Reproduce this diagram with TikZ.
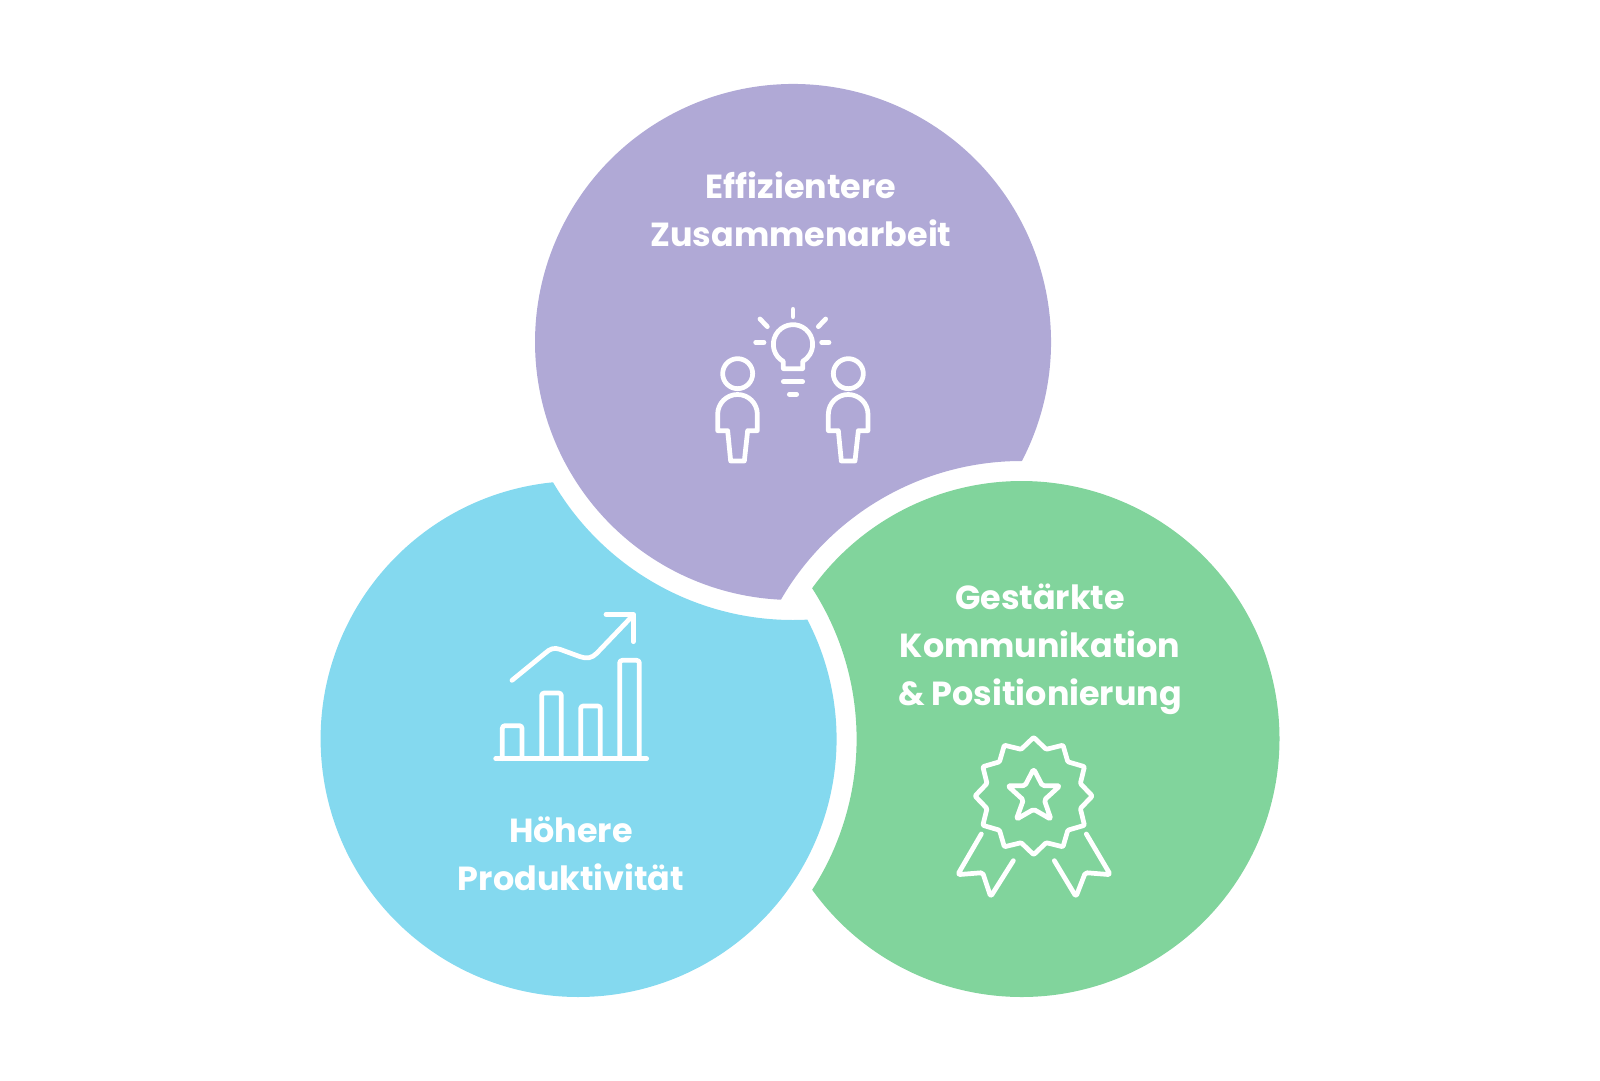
\documentclass[tikz,border=0pt]{standalone}
\usepackage{fontspec}
\setmainfont{Poppins}
\usepackage{xcolor}
\definecolor{lila}{HTML}{B0A9D6}
\definecolor{himmel}{HTML}{84D9EF}
\definecolor{mint}{HTML}{81D49C}
\tikzset{
    iconline/.style={draw=white, line width=2.7pt, line cap=round, line join=round},
    label/.style={text=white, align=center, font=\fontsize{19}{27.2}\selectfont\bfseries}
}

\begin{document}
\begin{tikzpicture}[x=0.02cm, y=0.02cm]
    \useasboundingbox (0,0) rectangle (1600,1080);

    \fill[lila] (793,738) ++(-27.47:258) arc[start angle=-27.47, end angle=267.31, radius=258]
        arc[start angle=149.93, end angle=89.91, radius=278] -- cycle;
    \fill[himmel] (578.6,341) ++(95.70:258) arc[start angle=95.70, end angle=387.56, radius=258]
        arc[start angle=272.95, end angle=210.31, radius=278] -- cycle;
    \fill[mint] (1021.5,341) ++(215.76:258) arc[start angle=215.76, end angle=504.24, radius=258]
        arc[start angle=32.85, end angle=-32.85, radius=278] -- cycle;

    \node[label] (effizienz) at (801,871) {Effizientere\\Zusammenarbeit};
    \node[label] (kommunikation) at (1040,431) {Gestärkte\\Kommunikation\\\& Positionierung};
    \node[label] (produktivitaet) at (571,226) {Höhere\\Produktivität};

    \begin{scope}[shift={(680,800)}, xscale=1/3, yscale=-1/3]
        \draw[iconline] (310,266) -- (310,244.4) arc[start angle=119.4, end angle=420.6, radius=59] -- (368,266) -- cycle;
        \draw[iconline] (339,88) -- (339,110);
        \draw[iconline] (240,117) -- (262,140);
        \draw[iconline] (437,117) -- (415,140);
        \draw[iconline] (227,187) -- (252,187);
        \draw[iconline] (425,187) -- (447,187);
        \draw[iconline] (310,305) -- (368,305);
        \draw[iconline] (328,343) -- (350,343);
        \foreach \px in {0,332} {
            \draw[iconline] (173+\px,281) circle[radius=45];
            \draw[iconline] (113+\px,452) -- (113+\px,403)
                arc[start angle=180, end angle=360, radius=59.5] -- (232+\px,452) -- (203+\px,452)
                -- (193+\px,543) -- (152+\px,543) -- (143+\px,452) -- cycle;
        }
    \end{scope}

    \begin{scope}[shift={(480,490)}, xscale=1/3, yscale=-1/3]
        \draw[iconline] (47,506) -- (500,506);
        \foreach \bx/\btop in {67/407, 185/309, 302/348, 419/211} {
            \draw[iconline, rounded corners=1.5pt] (\bx,506) -- (\bx,\btop) -- (\bx+59,\btop) -- (\bx+59,506);
        }
        \draw[iconline] (96,271) -- (195,190) .. controls (210,176) and (222,172) .. (240,178)
            -- (300,200) .. controls (320,207) and (335,205) .. (350,190) -- (460,75);
        \draw[iconline] (378,73) -- (460,73) -- (460,155);
    \end{scope}

    \begin{scope}[shift={(940,360)}, xscale=1/3, yscale=-1/3]
        \begin{scope}[shift={(281,228)}]
            \draw[iconline, rounded corners=0.6pt] (15:145) \foreach \a in {30,60,...,330} {
                -- (\a:176) -- (\a+15:145)} -- (0:176) -- cycle;
        \end{scope}
        \draw[iconline, rounded corners=1pt] (281,147) -- (307,197) -- (360,197) -- (313,240)
            -- (333,298) -- (281,268) -- (229,298) -- (250,240) -- (203,197) -- (255,197) -- cycle;
        \draw[iconline, rounded corners=1pt] (124,342) -- (53,464) -- (128,458) -- (152,530) -- (220,422);
        \draw[iconline, rounded corners=1pt] (439,342) -- (511,464) -- (436,458) -- (408,530) -- (343,422);
    \end{scope}
\end{tikzpicture}
\end{document}
